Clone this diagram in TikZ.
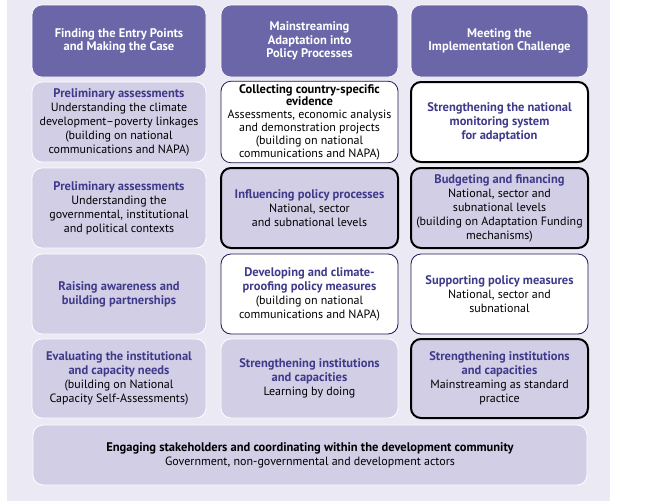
\documentclass[tikz,border=0pt]{standalone}
\usepackage{fontspec}
\setmainfont{PT Sans}
\definecolor{bgc}{HTML}{EBE9F4}
\definecolor{hdr}{HTML}{6B66A8}
\definecolor{lav}{HTML}{D1CEE6}
\definecolor{ttl}{HTML}{3F3A8A}
\definecolor{nav}{HTML}{1C1A4E}
\newcommand{\celltitle}[1]{{\fontsize{12.5}{14}\selectfont\bfseries\color{ttl}#1}}
\newcommand{\blacktitle}[1]{{\fontsize{12.5}{14}\selectfont\bfseries #1}}
\begin{document}
\begin{tikzpicture}[x=1pt,y=-1pt,
  cell/.style={rounded corners=10pt, align=center, inner sep=3pt, font=\fontsize{12}{14}\selectfont},
  hdrbox/.style={cell, fill=hdr, draw=white, line width=0.6pt, text=white, font=\fontsize{12.5}{13.5}\selectfont\bfseries, minimum height=72pt},
  lavbox/.style={cell, fill=lav, draw=white, line width=0.8pt},
  whitebox/.style={cell, fill=white, draw=nav, line width=0.8pt},
  thickwhite/.style={cell, fill=white, draw=black, line width=2pt},
  thicklav/.style={cell, fill=lav, draw=black, line width=2pt},
  c1/.style={minimum width=174pt},
  c2/.style={minimum width=177pt},
  c3/.style={minimum width=177pt},
  rh/.style={minimum height=80pt}
]
\useasboundingbox (0,0) rectangle (670,501);
\fill[white] (0,0) rectangle (670,501);
\fill[bgc] (7,0) rectangle (610,501);

% headers
\node[hdrbox, c1] (h1) at (119,41) {\bfseries Finding the Entry Points\\\bfseries and Making the Case};
\node[hdrbox, c2] (h2) at (309.5,41) {\bfseries Mainstreaming\\\bfseries Adaptation into\\\bfseries Policy Processes};
\node[hdrbox, c3] (h3) at (499.5,41) {\bfseries Meeting the\\\bfseries Implementation Challenge};

% row 1
\node[lavbox, c1, rh] (a1) at (119,122) {\celltitle{Preliminary assessments}\\Understanding the climate\\development--poverty linkages\\(building on national\\communications and NAPA)};
\node[whitebox, c2, rh, font=\fontsize{12}{12.8}\selectfont] (b1) at (309.5,122) {\blacktitle{Collecting country-specific}\\\blacktitle{evidence}\\Assessments, economic analysis\\and demonstration projects\\(building on national\\communications and NAPA)};
\node[thickwhite, c3, rh] (d1) at (499.5,122) {\celltitle{Strengthening the national}\\\celltitle{monitoring system}\\\celltitle{for adaptation}};

% row 2
\node[lavbox, c1, rh] (a2) at (119,208) {\celltitle{Preliminary assessments}\\Understanding the\\governmental, institutional\\and political contexts};
\node[thicklav, c2, rh] (b2) at (309.5,208) {\celltitle{Influencing policy processes}\\National, sector\\and subnational levels};
\node[thicklav, c3, rh] (d2) at (499.5,208) {\celltitle{Budgeting and financing}\\National, sector and\\subnational levels\\(building on Adaptation Funding\\mechanisms)};

% row 3
\node[lavbox, c1, rh] (a3) at (119,294) {\celltitle{Raising awareness and}\\\celltitle{building partnerships}};
\node[whitebox, c2, rh] (b3) at (309.5,294) {\celltitle{Developing and climate-}\\\celltitle{proofing policy measures}\\(building on national\\communications and NAPA)};
\node[whitebox, c3, rh] (d3) at (499.5,294) {\celltitle{Supporting policy measures}\\National, sector and\\subnational};

% row 4
\node[lavbox, c1, minimum height=79pt] (a4) at (119,378.5) {\celltitle{Evaluating the institutional}\\\celltitle{and capacity needs}\\(building on National\\Capacity Self-Assessments)};
\node[lavbox, c2, minimum height=79pt] (b4) at (309.5,378.5) {\celltitle{Strengthening institutions}\\\celltitle{and capacities}\\Learning by doing};
\node[thicklav, c3, minimum height=79pt] (d4) at (499.5,378.5) {\celltitle{Strengthening institutions}\\\celltitle{and capacities}\\Mainstreaming as standard\\practice};

% row 5
\node[lavbox, minimum width=554pt, minimum height=60pt] (e) at (310,455) {\blacktitle{Engaging stakeholders and coordinating within the development community}\\Government, non-governmental and development actors};
\end{tikzpicture}
\end{document}
